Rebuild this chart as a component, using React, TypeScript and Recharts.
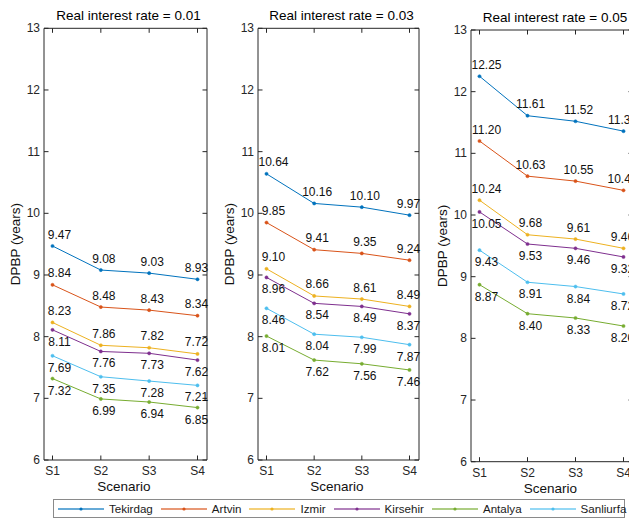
import React from 'react';
import { LineChart, Line, XAxis, YAxis, LabelList, Label } from 'recharts';

// ---------- data ----------
const SCENARIOS = ['S1', 'S2', 'S3', 'S4'];
const CITIES = ['Tekirdag', 'Artvin', 'Izmir', 'Kirsehir', 'Antalya', 'Sanliurfa'];
const CITY_COLORS = ['#0072BD', '#D95319', '#EDB120', '#7E2F8E', '#77AC30', '#4DBEEE'];
const Y_TICKS = [6, 7, 8, 9, 10, 11, 12, 13];
const RATES = ['0.01', '0.03', '0.05'];

// Real interest rate = 0.01
const r01Tekirdag = [9.47, 9.08, 9.03, 8.93];
const r01Artvin = [8.84, 8.48, 8.43, 8.34];
const r01Izmir = [8.23, 7.86, 7.82, 7.72];
const r01Kirsehir = [8.11, 7.76, 7.73, 7.62];
const r01Antalya = [7.32, 6.99, 6.94, 6.85];
const r01Sanliurfa = [7.69, 7.35, 7.28, 7.21];

// Real interest rate = 0.03
const r03Tekirdag = [10.64, 10.16, 10.1, 9.97];
const r03Artvin = [9.85, 9.41, 9.35, 9.24];
const r03Izmir = [9.1, 8.66, 8.61, 8.49];
const r03Kirsehir = [8.96, 8.54, 8.49, 8.37];
const r03Antalya = [8.01, 7.62, 7.56, 7.46];
const r03Sanliurfa = [8.46, 8.04, 7.99, 7.87];

// Real interest rate = 0.05
const r05Tekirdag = [12.25, 11.61, 11.52, 11.36];
const r05Artvin = [11.2, 10.63, 10.55, 10.4];
const r05Izmir = [10.24, 9.68, 9.61, 9.46];
const r05Kirsehir = [10.05, 9.53, 9.46, 9.32];
const r05Antalya = [8.87, 8.4, 8.33, 8.2];
const r05Sanliurfa = [9.43, 8.91, 8.84, 8.72];

const PANEL_SERIES = [
  [r01Tekirdag, r01Artvin, r01Izmir, r01Kirsehir, r01Antalya, r01Sanliurfa],
  [r03Tekirdag, r03Artvin, r03Izmir, r03Kirsehir, r03Antalya, r03Sanliurfa],
  [r05Tekirdag, r05Artvin, r05Izmir, r05Kirsehir, r05Antalya, r05Sanliurfa],
];

// ---------- layout ----------
const FONT = '"Liberation Sans", Arial, Helvetica, sans-serif';
const AX = '#262626';
const PAGE_H = 519;
const PANELS = [
  { plotLeft: 44, plotRight: 207, top: 28.3, bottom: 460 },
  { plotLeft: 258, plotRight: 419, top: 28.3, bottom: 460 },
  { plotLeft: 471, plotRight: 633, top: 30, bottom: 461.7 },
];
const LABEL_DX = [7, 3, 3, -1];

function buildRows(series: number[][]) {
  return SCENARIOS.map((s, i) => {
    const row: Record<string, any> = { cat: s };
    CITIES.forEach((c, k) => {
      row[c] = series[k][i];
    });
    return row;
  });
}

const LeftTick = (props: any) => {
  const { x, y, payload } = props;
  return (
    <g>
      <line x1={x} x2={x + 4.5} y1={y} y2={y} stroke={AX} strokeWidth={1} />
      <text x={x - 4} y={y} textAnchor="end" dominantBaseline="central" fontSize={12} fill={AX} fontFamily={FONT}>
        {payload.value}
      </text>
    </g>
  );
};
const RightTick = (props: any) => {
  const { x, y } = props;
  return <line x1={x} x2={x - 4.5} y1={y} y2={y} stroke={AX} strokeWidth={1} />;
};
const BottomTick = (props: any) => {
  const { x, y, payload } = props;
  return (
    <g>
      <line x1={x} x2={x} y1={y} y2={y - 4.5} stroke={AX} strokeWidth={1} />
      <text x={x} y={y + 11} textAnchor="middle" dominantBaseline="central" fontSize={12} fill={AX} fontFamily={FONT}>
        {payload.value}
      </text>
    </g>
  );
};
const TopTick = (props: any) => {
  const { x, y } = props;
  return <line x1={x} x2={x} y1={y} y2={y + 4.5} stroke={AX} strokeWidth={1} />;
};

function makeValueLabel(above: boolean) {
  return (props: any) => {
    const { x, y, value, index } = props;
    if (x == null || y == null) return null;
    return (
      <text
        x={x + LABEL_DX[index]}
        y={above ? y - 11.5 : y + 12}
        textAnchor="middle"
        dominantBaseline="central"
        fontSize={12}
        fill="#111"
        fontFamily={FONT}
      >
        {Number(value).toFixed(2)}
      </text>
    );
  };
}

function Panel({ idx }: { idx: number }) {
  const p = PANELS[idx];
  const rows = buildRows(PANEL_SERIES[idx]);
  const chartLeft = p.plotLeft - 44;
  const width = p.plotRight - chartLeft + 8;
  const margin = { left: 14, right: 7, top: p.top - 1, bottom: PAGE_H - p.bottom - 30 };
  const title = `Real interest rate = ${RATES[idx]}`;
  return (
    <div style={{ position: 'absolute', left: chartLeft, top: 0 }}>
      <LineChart width={width} height={PAGE_H} data={rows} margin={margin} style={{ overflow: 'visible' }}>
        <XAxis
          dataKey="cat"
          height={30}
          padding={{ left: 8.5, right: 9.5 }}
          tickSize={0}
          tickMargin={0}
          tick={BottomTick}
          tickLine={false}
          axisLine={{ stroke: AX }}
          interval={0}
        >
          <Label
            content={(lp: any) => {
              const vb = lp.viewBox;
              return (
                <text
                  x={vb.x + vb.width / 2 - 1.5}
                  y={vb.y + 26.7}
                  textAnchor="middle"
                  dominantBaseline="central"
                  fontSize={13.5}
                  fill="#111"
                  fontFamily={FONT}
                >
                  Scenario
                </text>
              );
            }}
          />
        </XAxis>
        <XAxis
          xAxisId="top"
          orientation="top"
          dataKey="cat"
          height={1}
          padding={{ left: 8.5, right: 9.5 }}
          tickSize={0}
          tickMargin={0}
          tick={TopTick}
          tickLine={false}
          axisLine={{ stroke: AX }}
          interval={0}
        >
          <Label
            content={(lp: any) => {
              const vb = lp.viewBox;
              return (
                <text
                  x={vb.x + vb.width / 2 + 3}
                  y={vb.y + vb.height - 12.6}
                  textAnchor="middle"
                  dominantBaseline="central"
                  fontSize={13.5}
                  fill="#000"
                  fontFamily={FONT}
                >
                  {title}
                </text>
              );
            }}
          />
        </XAxis>
        <YAxis
          type="number"
          domain={[6, 13]}
          ticks={Y_TICKS}
          width={30}
          tickSize={0}
          tickMargin={0}
          tick={LeftTick}
          tickLine={false}
          axisLine={{ stroke: AX }}
          interval={0}
          allowDataOverflow
        >
          <Label
            content={(lp: any) => {
              const vb = lp.viewBox;
              const cx = vb.x + vb.width - 28.5;
              const cy = vb.y + vb.height / 2;
              return (
                <text
                  x={cx}
                  y={cy}
                  transform={`rotate(-90 ${cx} ${cy})`}
                  textAnchor="middle"
                  dominantBaseline="central"
                  fontSize={13.5}
                  fill="#111"
                  fontFamily={FONT}
                >
                  DPBP (years)
                </text>
              );
            }}
          />
        </YAxis>
        <YAxis
          yAxisId="right"
          orientation="right"
          type="number"
          domain={[6, 13]}
          ticks={Y_TICKS}
          width={1}
          tickSize={0}
          tickMargin={0}
          tick={RightTick}
          tickLine={false}
          axisLine={{ stroke: AX }}
          interval={0}
          allowDataOverflow
        />
        {CITIES.map((c, k) => (
          <Line
            key={c}
            type="linear"
            dataKey={c}
            stroke={CITY_COLORS[k]}
            strokeWidth={1}
            dot={{ r: 1.6, fill: CITY_COLORS[k], stroke: CITY_COLORS[k], strokeWidth: 0.5 }}
            activeDot={false}
            isAnimationActive={false}
          >
            <LabelList dataKey={c} content={makeValueLabel(k < 3)} />
          </Line>
        ))}
      </LineChart>
    </div>
  );
}

function LegendBox() {
  return (
    <div
      style={{
        position: 'absolute',
        left: 53,
        top: 499,
        width: 572,
        height: 19,
        boxSizing: 'border-box',
        border: '1px solid #8a8a8a',
        background: '#fff',
        display: 'flex',
        alignItems: 'center',
        paddingLeft: 4,
        paddingTop: 1,
        fontFamily: FONT,
        fontSize: 11.6,
        color: '#1a1a1a',
        whiteSpace: 'nowrap',
      }}
    >
      {CITIES.map((c, k) => (
        <div key={c} style={{ display: 'flex', alignItems: 'center', marginRight: 8 }}>
          <svg width={46} height={10} style={{ display: 'block' }}>
            <line x1={0} x2={46} y1={5} y2={5} stroke={CITY_COLORS[k]} strokeOpacity={0.6} strokeWidth={2} />
            <circle cx={23} cy={5} r={1.6} fill={CITY_COLORS[k]} />
          </svg>
          <span style={{ marginLeft: 5, lineHeight: '12px' }}>{c}</span>
        </div>
      ))}
    </div>
  );
}

export default function App() {
  return (
    <div
      style={{
        position: 'absolute',
        left: 0,
        top: 0,
        width: 629,
        height: PAGE_H,
        overflow: 'hidden',
        background: '#fff',
      }}
    >
      <Panel idx={0} />
      <Panel idx={1} />
      <Panel idx={2} />
      <LegendBox />
    </div>
  );
}
